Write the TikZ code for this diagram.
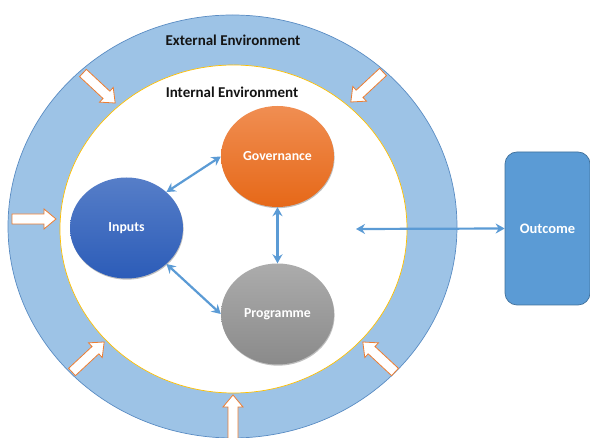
\documentclass[tikz,border=0pt]{standalone}
\usepackage{fontspec}
\setmainfont{Carlito}
\usetikzlibrary{shapes.geometric,arrows.meta,shadows}
\definecolor{ringfill}{RGB}{157,195,230}
\definecolor{ringdraw}{RGB}{90,140,195}
\definecolor{innerdraw}{RGB}{255,192,0}
\definecolor{conn}{RGB}{91,155,213}
\definecolor{outfill}{RGB}{91,155,213}
\definecolor{outdraw}{RGB}{65,113,156}
\definecolor{barrowdraw}{RGB}{237,125,49}
\tikzset{
  envtext/.style={font=\bfseries\fontsize{15}{17}\selectfont, text={rgb,255:red,20;green,20;blue,20}},
  bubble/.style={ellipse, minimum width=113pt, minimum height=101pt, inner sep=0pt,
     font=\bfseries\fontsize{13.8}{16}\selectfont, text=white,
     drop shadow={shadow xshift=0.6pt, shadow yshift=-1.2pt, opacity=0.25, fill=black}},
  link/.style={draw=conn, line width=2.2pt, {Stealth[length=9pt,width=10pt,inset=3pt]}-{Stealth[length=9pt,width=10pt,inset=3pt]}},
  barrowstyle/.style={fill=white, draw=barrowdraw, line width=0.8pt, line join=miter},
  barrow/.pic={\path[barrowstyle] (0pt,-5pt) -- (32pt,-5pt) -- (32pt,-10pt) -- (44pt,0pt) -- (32pt,10pt) -- (32pt,5pt) -- (0pt,5pt) -- cycle;}
}
\begin{document}
\begin{tikzpicture}[x={(1pt,0pt)}, y={(0pt,-1pt)}]
\useasboundingbox (0,0) rectangle (590,438);
% environments
\node[ellipse, draw=ringdraw, fill=ringfill, line width=0.7pt, minimum width=449pt, minimum height=423pt, inner sep=0pt] (ext) at (232.5,226.5) {};
\node[ellipse, draw=innerdraw, fill=white, line width=0.7pt, minimum width=347pt, minimum height=328pt, inner sep=0pt] (int) at (233.5,229) {};
\node[envtext] (exttext) at (233,40) {External Environment};
\node[envtext] (inttext) at (232,92) {Internal Environment};
% block arrows
\pic[rotate=-43] at (83,73) {barrow};
\pic[rotate=-137] at (383,72) {barrow};
\pic at (12,219) {barrow};
\pic[rotate=43] at (72,372) {barrow};
\pic[rotate=137] at (395,372) {barrow};
\pic[rotate=90] at (233,439) {barrow};
% bubbles
\node[bubble, top color={rgb,255:red,240;green,142;blue,82}, bottom color={rgb,255:red,230;green,104;blue,24}] (gov) at (277.5,156.5) {Governance};
\node[bubble, top color={rgb,255:red,86;green,126;blue,200}, bottom color={rgb,255:red,44;green,92;blue,184}] (inp) at (126.5,228) {Inputs};
\node[bubble, top color={rgb,255:red,172;green,172;blue,172}, bottom color={rgb,255:red,138;green,138;blue,138}] (prog) at (277.5,314) {Programme};
% outcome
\node[draw=outdraw, fill=outfill, line width=0.7pt, rounded corners=12pt, minimum width=85pt, minimum height=153pt, inner sep=0pt, font=\bfseries\fontsize{14.5}{17}\selectfont, text=white] (out) at (547.5,228.5) {Outcome};
\coordinate (free) at (356,229);
% connectors
\draw[link] (inp.42) -- (gov.west);
\draw[link] (inp.-42) -- (prog.west);
\draw[link] (gov.south) -- (prog.north);
\draw[link] (free) -- (out.west);
\end{tikzpicture}
\end{document}
